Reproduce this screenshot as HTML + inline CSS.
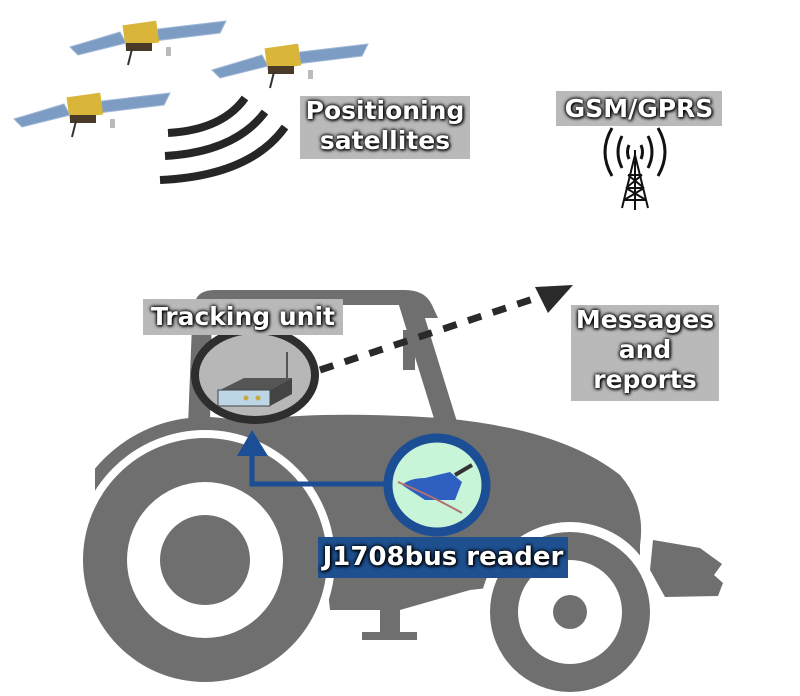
<!DOCTYPE html>
<html><head><meta charset="utf-8"><style>
html,body{margin:0;padding:0;background:#fff;}
body{width:800px;height:696px;position:relative;overflow:hidden;font-family:"DejaVu Sans","Liberation Sans",sans-serif;}
.lbl{position:absolute;background:#b9b9b9;color:#fff;font-weight:bold;font-size:25px;text-align:center;line-height:30px;text-shadow:0 0 3px #000,0 0 4px #000,1px 1px 3px #000;white-space:nowrap;}
svg{position:absolute;left:0;top:0;}
</style></head><body>
<svg width="800" height="696" viewBox="0 0 800 696">
<defs>
<g id="sat">
 <polygon points="-70,12 -20,-3 -14,8 -62,20" fill="#7d9cc4" stroke="#9fb6d6" stroke-width="1"/>
 <polygon points="18,-6 86,-14 80,-2 14,6" fill="#7d9cc4" stroke="#9fb6d6" stroke-width="1"/>
 <rect x="-16" y="-12" width="34" height="22" fill="#d9b53a" transform="rotate(-8)"/>
 <rect x="-14" y="8" width="26" height="8" fill="#4a3a28"/>
 <line x1="-8" y1="14" x2="-12" y2="30" stroke="#333" stroke-width="2"/>
 <rect x="26" y="12" width="5" height="9" fill="#bbb"/>
</g>
<clipPath id="fc"><rect x="95" y="380" width="300" height="150"/></clipPath>
</defs>
<use href="#sat" x="140" y="35"/>
<use href="#sat" x="282" y="58"/>
<use href="#sat" x="84" y="107"/>
<g fill="none" stroke="#262626" stroke-width="8">
<path d="M168,133 Q222,130 245,98"/>
<path d="M165,156 Q235,152 265,112"/>
<path d="M160,180 Q250,176 285,127"/>
</g>
<g fill="none" stroke="#111" stroke-width="3">
<path d="M612,128 Q598,152 612,176"/><path d="M658,128 Q672,152 658,176"/>
<path d="M622,136 Q614,152 622,168"/><path d="M648,136 Q656,152 648,168"/>
<path d="M629,145 Q626,152 629,159"/><path d="M641,145 Q644,152 641,159"/>
</g>
<g stroke="#111" stroke-width="2" fill="none">
<path d="M635,155 L622,208 M635,155 L648,208 M635,150 L635,210 M628,175 L642,175 M626,188 L644,188 M624,200 L646,200 M628,175 L644,188 M642,175 L626,188 M626,188 L646,200 M644,188 L624,200"/>
</g>
<g fill="#6f6f6f">
 <path d="M195,302 Q198,290 215,290 L405,290 Q425,290 432,305 L438,318 L420,318 L418,305 L210,305 Z"/>
 <polygon points="193,300 212,300 210,425 188,425"/>
 <polygon points="398,302 420,302 458,425 436,425"/>
 <rect x="403" y="330" width="12" height="40"/>
 <path d="M150,445 Q240,405 440,418 Q560,428 620,475 Q646,505 640,545 L640,570 L560,580 L470,590 L400,610 L330,610 L320,520 Z"/>
 <circle cx="205" cy="560" r="143" clip-path="url(#fc)"/>
 <rect x="380" y="600" width="20" height="40"/><rect x="362" y="632" width="55" height="8"/>
 <path d="M653,540 L700,548 L722,564 L714,575 L723,583 L718,596 L665,597 L650,570 Z"/>
</g>
<circle cx="205" cy="560" r="130" fill="#fff"/>
<circle cx="205" cy="560" r="122" fill="#6f6f6f"/>
<circle cx="205" cy="560" r="78" fill="#fff"/>
<circle cx="205" cy="560" r="45" fill="#6f6f6f"/>
<circle cx="570" cy="612" r="90" fill="#fff"/>
<circle cx="570" cy="612" r="80" fill="#6f6f6f"/>
<circle cx="570" cy="612" r="52" fill="#fff"/>
<circle cx="570" cy="612" r="17" fill="#6f6f6f"/>
<line x1="320" y1="370" x2="548" y2="294" stroke="#2a2a2a" stroke-width="7" stroke-dasharray="14,12"/>
<polygon points="573,285 535,287 548,313" fill="#2a2a2a"/>
<ellipse cx="255" cy="375" rx="60" ry="45" fill="#b7b7b7" stroke="#2e2e2e" stroke-width="8"/>
<polygon points="220,390 270,390 292,378 244,378" fill="#555"/>
<rect x="218" y="390" width="52" height="16" fill="#bcd6e6" stroke="#444"/>
<polygon points="270,390 292,378 292,394 270,406" fill="#444"/>
<line x1="287" y1="380" x2="287" y2="352" stroke="#555" stroke-width="2"/>
<circle cx="246" cy="398" r="2.5" fill="#c9a83a"/><circle cx="258" cy="398" r="2.5" fill="#c9a83a"/>
<polyline points="388,484 252,484 252,452" fill="none" stroke="#1b4e94" stroke-width="5"/>
<polygon points="252,430 237,456 268,456" fill="#1b4e94"/>
<ellipse cx="437" cy="485" rx="49" ry="47" fill="#c8f5d8" stroke="#1b4e94" stroke-width="9"/>
<path d="M402,485 Q410,478 425,478 L450,472 L462,482 L455,500 L425,500 Z" fill="#2f5fc0"/>
<line x1="455" y1="475" x2="472" y2="465" stroke="#333" stroke-width="4"/>
<path d="M398,482 Q430,495 462,513" stroke="#b07070" stroke-width="2" fill="none"/>
</svg>
<div class="lbl" style="left:300px;top:96px;width:170px;height:63px;">Positioning<br>satellites</div>
<div class="lbl" style="left:556px;top:91px;width:166px;height:35px;line-height:35px;">GSM/GPRS</div>
<div class="lbl" style="left:143px;top:299px;width:200px;height:36px;line-height:36px;">Tracking unit</div>
<div class="lbl" style="left:571px;top:305px;width:148px;height:96px;">Messages<br>and<br>reports</div>
<div class="lbl" style="left:318px;top:537px;width:250px;height:41px;line-height:41px;background:#1e4f8f;font-size:26px;">J1708bus reader</div>
</body></html>
